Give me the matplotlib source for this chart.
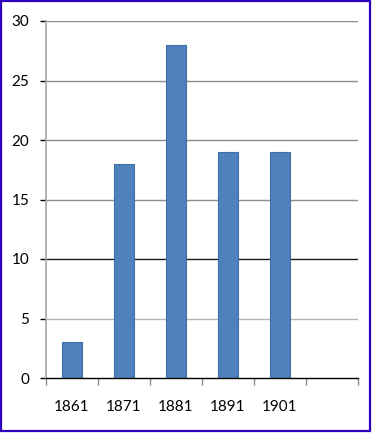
import matplotlib
matplotlib.use("Agg")
import matplotlib.pyplot as plt
from matplotlib.patches import Rectangle
import numpy as np

categories = ['1861', '1871', '1881', '1891', '1901', '']
values = [3, 18, 28, 19, 19, np.nan]
yticks = [0, 5, 10, 15, 20, 25, 30]

plt.rcParams['font.family'] = ['Lato', 'DejaVu Sans']

W, H = 377, 434
fig = plt.figure(figsize=(W / 100, H / 100), dpi=100, facecolor='#fffdf0')

# white panel with blue frame
fig.patches.append(Rectangle((0, 0), 370 / W, 1, transform=fig.transFigure,
                             facecolor='white', edgecolor='none', zorder=-5))
fig.patches.append(Rectangle((1 / W, 3 / H), 368.5 / W, (H - 4) / H, transform=fig.transFigure,
                             facecolor='none', edgecolor='#3000c0', linewidth=1.6, zorder=10))

left, right = 46 / W, 358 / W
bottom, top = (H - 378) / H, (H - 21) / H
ax = fig.add_axes([left, bottom, right - left, top - bottom])
ax.set_facecolor('none')

x = np.arange(len(categories))
ax.bar(x, values, width=0.39, color='#4f81bd', edgecolor='#3d6fa8', linewidth=0.8, zorder=3)

ax.set_xlim(-0.5, len(categories) - 0.5)
ax.set_ylim(0, 30)

grid_colors = {0: '#000000', 5: '#b4b4b4', 10: '#1a1a1a', 15: '#8c8c8c', 20: '#8c8c8c', 25: '#8c8c8c', 30: '#8c8c8c'}
for yv in yticks[1:]:
    ax.axhline(yv, color=grid_colors[yv], linewidth=1.0, zorder=1)

ax.set_yticks(yticks)
ax.set_yticklabels([str(v) for v in yticks], fontsize=11, color='#000000')
ax.tick_params(axis='y', length=4, width=1.0, pad=8, direction='out')
for t, yv in zip(ax.yaxis.get_major_ticks(), yticks):
    t.tick1line.set_color(grid_colors[yv])

# category labels at centers, boundary ticks
ax.set_xticks(np.arange(len(categories) + 1) - 0.5)
ax.set_xticklabels([])
ax.tick_params(axis='x', length=5, width=1.0, color='#8c8c8c', direction='out')
for xi, lab in zip(x, categories):
    ax.text(xi, -0.08, lab, transform=ax.get_xaxis_transform(), ha='center', va='center',
            fontsize=11, color='#000000')

for s in ['top', 'right']:
    ax.spines[s].set_visible(False)
ax.spines['left'].set_color('#a6a6a6')
ax.spines['left'].set_linewidth(1.2)
ax.spines['bottom'].set_color('#000000')
ax.spines['bottom'].set_linewidth(1.0)
ax.spines['bottom'].set_zorder(4)

fig.savefig('out.png', dpi=100, facecolor=fig.get_facecolor())
